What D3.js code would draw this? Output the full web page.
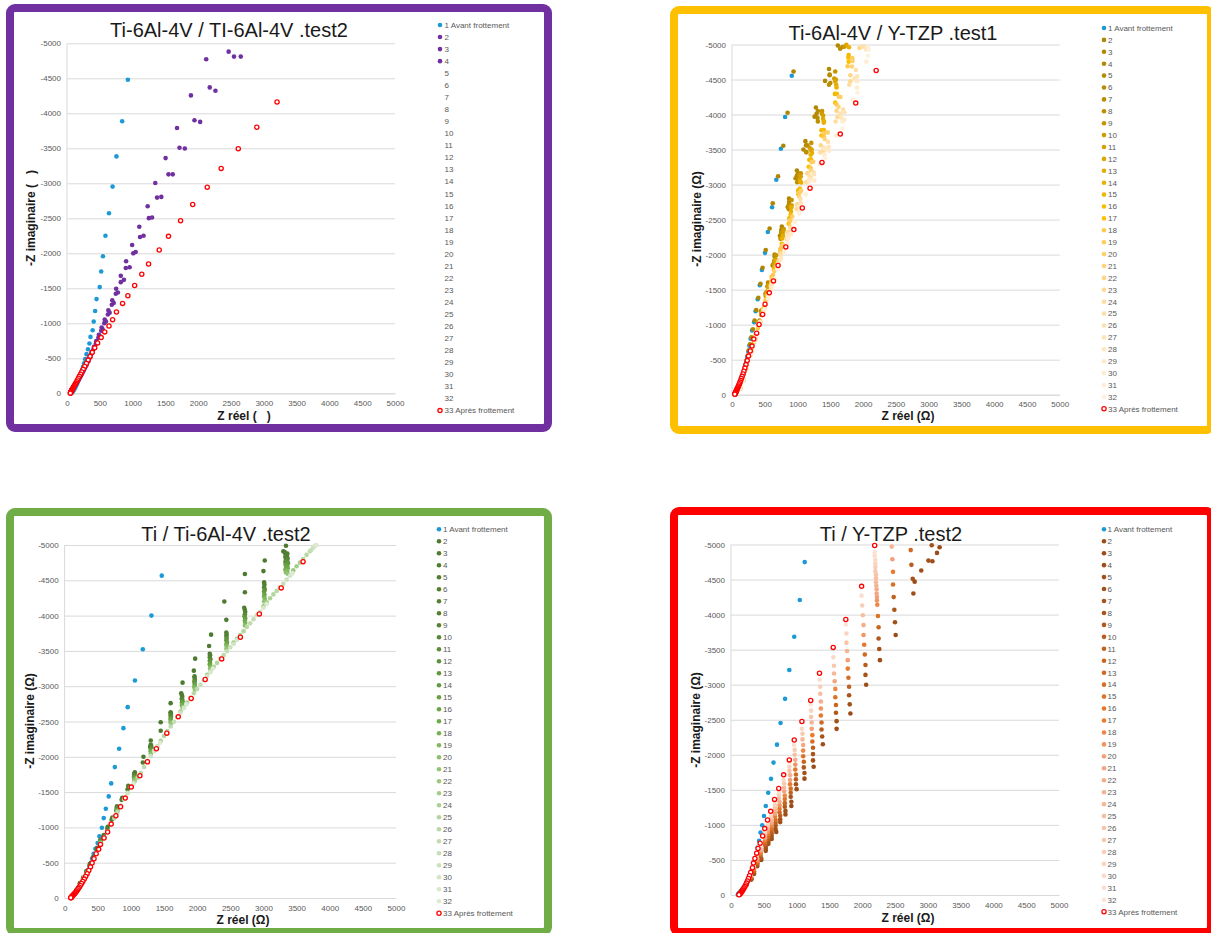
<!DOCTYPE html>
<html><head><meta charset="utf-8">
<script src="https://cdn.jsdelivr.net/npm/d3@7"></script>
<style>body{margin:0;background:#fff}svg{display:block}</style>
</head><body>
<svg id="c" width="1211" height="933"></svg>
<script>
// ---------- shared labels ----------
const xTickValues = [0,500,1000,1500,2000,2500,3000,3500,4000,4500,5000];
const yTickValues = [0,500,1000,1500,2000,2500,3000,3500,4000,4500,5000];
const yTickLabels = ["0","-500","-1000","-1500","-2000","-2500","-3000","-3500","-4000","-4500","-5000"];
const legendNames = ["1 Avant frottement","2","3","4","5","6","7","8","9","10","11","12","13","14","15","16","17","18","19","20","21","22","23","24","25","26","27","28","29","30","31","32","33 Après frottement"];
const chartTitles = ["Ti-6Al-4V / TI-6Al-4V .test2","Ti-6Al-4V / Y-TZP .test1","Ti / Ti-6Al-4V .test2","Ti / Y-TZP .test2"];
const xTitles = ["Z réel (\u00a0\u00a0\u00a0)","Z réel (Ω)","Z réel (Ω)","Z réel (Ω)"];
const yTitles = ["-Z imaginaire (\u00a0\u00a0\u00a0)","-Z imaginaire (Ω)","-Z imaginaire (Ω)","-Z imaginaire (Ω)"];

// ---------- panel 1 : [Z réel, -Z imaginaire] ----------
const p1Avant = [[928,4479],[841,3886],[754,3384],[695,2953],[640,2573],[586,2251],[548,1957],[521,1739],[499,1517],[450,1346],[429,1175],[407,1024],[391,900],[358,806],[342,711],[320,630],[298,559],[277,488],[260,430],[245,380],[230,335],[216,295],[203,258],[191,226],[180,197],[169,171],[159,149],[149,129],[140,111],[131,95],[123,81],[115,68],[108,57],[101,47],[95,38],[89,30],[84,23],[79,17],[74,12],[70,8],[66,4],[62,1]];
const p1Mid = [
[[2122,4773],[1889,4256],[1677,3791],[1503,3360],[1346,3005],[1230,2673],[1102,2379],[993,2118],[901,1886],[820,1678],[749,1493],[690,1330],[630,1185],[575,1055],[528,940],[485,837],[446,745],[410,663],[376,590],[346,525],[318,467],[292,416],[268,370],[246,330],[226,293],[207,261],[190,232],[174,207],[160,184],[147,164],[135,146],[124,130],[114,116],[105,103],[97,92],[90,82],[83,73],[77,65],[72,58],[67,51],[63,44],[59,35],[56,25],[53,15],[51,7]],
[[2464,4881],[2176,4370],[1943,3900],[1715,3507],[1547,3128],[1373,2796],[1248,2502],[1113,2232],[1010,2000],[896,1791],[820,1588],[744,1422],[683,1265],[623,1126],[569,1002],[521,892],[478,794],[439,707],[403,629],[370,560],[340,498],[313,443],[288,395],[265,351],[244,313],[225,278],[207,248],[191,220],[176,196],[162,175],[150,155],[138,138],[128,123],[118,110],[110,98],[102,87],[95,77],[88,69],[82,61],[77,54],[72,47],[68,40],[64,32],[60,23],[57,14],[54,6]],
[[2649,4810],[2546,4810],[2263,4322],[2030,3877],[1796,3498],[1612,3128],[1438,2806],[1297,2512],[1167,2251],[1047,2019],[955,1801],[868,1621],[776,1441],[712,1290],[650,1150],[594,1025],[544,914],[499,815],[458,727],[420,648],[386,578],[355,515],[326,459],[300,409],[276,365],[254,325],[234,290],[216,258],[199,230],[183,205],[169,183],[156,163],[144,145],[133,129],[123,115],[114,102],[106,91],[98,81],[91,72],[85,64],[80,56],[75,48],[70,40],[66,31],[62,22],[59,13],[56,5]],
[],[],[],[],[],[],[],[],[],[],[],[],[],[],[],[],[],[],[],[],[],[],[],[],[],[],[],[]
];
const p1Apres = [[3202,4161],[2893,3801],[2611,3493],[2350,3213],[2138,2943],[1916,2697],[1731,2464],[1547,2242],[1406,2047],[1243,1848],[1140,1701],[1031,1540],[928,1393],[847,1284],[754,1161],[695,1052],[640,962],[575,877],[521,796],[467,720],[423,649],[385,585],[352,527],[322,474],[295,426],[270,382],[247,342],[226,305],[207,272],[190,242],[174,214],[160,189],[147,166],[135,146],[124,128],[114,111],[105,96],[97,82],[90,70],[84,59],[78,49],[73,40],[69,32],[65,25],[61,19],[58,14],[55,9],[53,5],[51,2]];

// ---------- panel 2 ----------
const p2Avant = [[912,4553],[810,3964],[746,3512],[676,3070],[612,2676],[547,2324],[504,2025],[456,1782],[424,1564],[392,1364],[360,1193],[338,1036],[306,917],[284,798],[265,700],[248,615],[232,540],[217,475],[203,418],[190,367],[178,322],[166,283],[155,248],[145,218],[135,191],[126,167],[118,146],[110,128],[103,112],[96,97],[90,84],[84,73],[79,62],[74,53],[70,45],[66,37],[62,30],[59,24],[56,18],[54,13],[52,8],[50,4]];
const p2Mid = [
[[939,4615],[848,4026],[783,3555],[703,3118],[622,2733],[574,2372],[515,2067],[467,1811],[435,1583],[402,1383],[370,1210],[345,1060],[318,935],[295,820],[275,720],[257,633],[240,555],[224,487],[209,428],[195,375],[182,330],[170,290],[158,254],[147,223],[137,195],[128,171],[119,150],[111,131],[104,114],[97,99],[91,86],[85,75],[80,64],[75,55],[70,47],[66,39],[62,32],[59,26],[56,20],[53,14],[51,9],[49,5]],
[[1480,4650],[1280,4100],[1120,3620],[990,3200],[870,2800],[760,2400],[650,2000],[550,1600],[450,1200],[340,800],[220,400],[120,90]],
[[1615,4985],[1420,4480],[1260,3970],[1090,3500],[970,3090],[850,2680],[730,2270],[620,1850],[510,1440],[410,1030],[300,620],[170,210]],
[[1490,4570],[1290,4010],[1130,3560],[990,3130],[870,2750],[750,2350],[650,1970],[550,1560],[440,1190],[335,775],[217,402],[125,95]],
[[1650,4940],[1490,4560],[1310,4050],[1150,3560],[1010,3160],[870,2720],[760,2320],[640,1880],[530,1470],[420,1060],[300,620],[175,205]],
[[1500,4450],[1305,3950],[1130,3465],[1000,3080],[865,2680],[750,2315],[645,1910],[540,1545],[445,1140],[330,780],[215,375],[120,85]],
[[1685,4965],[1480,4425],[1310,3900],[1135,3460],[995,3035],[865,2650],[740,2225],[630,1835],[515,1410],[405,1005],[295,620],[170,200]],
[[1575,4615],[1375,4050],[1210,3595],[1050,3160],[910,2780],[790,2365],[675,1990],[565,1575],[455,1200],[335,780],[220,405],[125,90]],
[[1720,4970],[1560,4515],[1370,4015],[1185,3525],[1030,3130],[895,2695],[770,2300],[645,1860],[530,1465],[415,1030],[300,625],[175,210]],
[[1585,4500],[1390,3985],[1215,3500],[1050,3115],[910,2705],[785,2340],[670,1930],[555,1560],[450,1155],[340,785],[215,380],[120,95]],
[[1745,4995],[1575,4470],[1390,3935],[1200,3495],[1035,3065],[900,2675],[770,2245],[645,1855],[530,1425],[410,1035],[295,605],[170,205]],
[[1590,4425],[1400,3885],[1220,3450],[1055,3030],[905,2670],[780,2270],[665,1910],[555,1510],[450,1150],[335,750],[215,390],[125,90]],
[[1785,4960],[1595,4385],[1405,3900],[1200,3425],[1040,3040],[900,2615],[765,2230],[645,1810],[525,1425],[415,1000],[290,605],[175,200]],
[[1780,4850],[1570,4295],[1365,3775],[1180,3355],[1010,2915],[875,2520],[740,2080],[605,1680],[490,1245],[360,845],[225,410],[120,90]],
[[1775,4815],[1600,4295],[1400,3780],[1205,3360],[1035,2945],[895,2570],[760,2155],[640,1785],[525,1370],[405,995],[285,580],[170,210]],
[[1780,4755],[1575,4170],[1365,3700],[1170,3255],[1010,2865],[865,2440],[735,2050],[600,1620],[480,1235],[355,805],[225,420],[125,95]],
[[1765,4690],[1595,4145],[1400,3685],[1200,3235],[1015,2875],[880,2475],[755,2110],[625,1710],[510,1345],[395,945],[280,575],[175,205]],
[[1835,4805],[1630,4255],[1410,3735],[1215,3320],[1035,2890],[890,2495],[745,2060],[610,1665],[495,1230],[360,840],[225,405],[120,85]],
[[1840,4765],[1655,4250],[1460,3745],[1240,3325],[1055,2915],[920,2545],[780,2135],[645,1765],[530,1355],[400,985],[285,575],[170,200]],
[[1830,4685],[1625,4110],[1415,3650],[1205,3205],[1025,2825],[885,2400],[735,2020],[605,1600],[480,1215],[350,795],[220,410],[125,90]],
[[1945,4950],[1805,4560],[1595,4055],[1355,3560],[1150,3160],[995,2720],[845,2320],[700,1880],[565,1480],[435,1040],[300,630],[175,210]],
[[1805,4475],[1610,3965],[1400,3485],[1195,3100],[1005,2690],[860,2325],[715,1920],[590,1555],[465,1150],[340,780],[215,375],[120,95]],
[[1975,4965],[1790,4425],[1580,3900],[1345,3460],[1135,3035],[985,2650],[830,2225],[680,1835],[545,1410],[425,1025],[295,600],[170,205]],
[[1890,4635],[1695,4070],[1465,3610],[1245,3175],[1045,2795],[895,2380],[745,2000],[605,1580],[480,1205],[360,785],[220,410],[125,90]],
[[2010,4975],[1870,4515],[1650,4015],[1395,3525],[1180,3130],[1015,2695],[860,2300],[705,1860],[570,1465],[435,1030],[300,625],[175,200]],
[[1910,4545],[1715,4030],[1475,3540],[1250,3145],[1050,2735],[905,2360],[745,1950],[610,1580],[480,1165],[355,795],[215,380],[120,85]],
[[2045,4930],[1895,4490],[1670,3955],[1415,3510],[1180,3080],[1025,2690],[860,2255],[710,1865],[565,1430],[430,1040],[295,610],[170,210]],
[[1910,4475],[1715,3925],[1480,3485],[1255,3060],[1055,2700],[900,2295],[745,1930],[600,1525],[475,1160],[350,760],[215,395],[125,95]],
[[2065,4960],[1905,4385],[1685,3900],[1410,3425],[1180,3040],[1030,2615],[855,2230],[695,1810],[565,1425],[425,1000],[290,605],[175,205]],
[[2050,4755],[1845,4215],[1590,3700],[1345,3290],[1125,2860],[960,2470],[795,2040],[645,1650],[500,1220],[365,830],[235,400],[120,90]],
[[2090,4930],[2075,4840],[1915,4315],[1685,3800],[1420,3375],[1180,2960],[1020,2585],[855,2170],[695,1790],[555,1375],[425,1000],[300,585],[170,200]]
];
const p2Apres = [[2200,4629],[1888,4163],[1652,3721],[1373,3317],[1191,2947],[1073,2666],[944,2357],[821,2110],[703,1844],[633,1625],[569,1454],[504,1293],[467,1145],[413,1003],[376,879],[333,794],[306,694],[279,623],[252,551],[232,487],[214,430],[197,380],[182,336],[168,297],[155,262],[143,231],[132,204],[122,180],[113,158],[105,139],[97,122],[90,107],[84,93],[78,81],[73,70],[68,60],[64,51],[60,43],[56,35],[53,28],[50,22],[47,16],[45,11],[43,7]];

// ---------- panel 3 ----------
const p3Avant = [[1466,4566],[1310,4000],[1180,3524],[1061,3080],[952,2703],[887,2406],[823,2113],[758,1854],[703,1623],[666,1439],[622,1264],[590,1132],[563,995],[525,873],[498,778],[465,698],[438,627],[415,560],[395,500],[375,445],[355,395],[335,350],[315,308],[295,270],[276,236],[258,205],[241,177],[225,152],[210,130],[196,111],[183,94],[171,79],[160,66],[150,55],[141,45],[133,37],[126,30],[119,24],[113,18],[108,14],[104,10],[100,6],[97,3]];
const p3Mid = [
[[3340,4990],[3020,4780],[2720,4590],[2410,4200],[2210,3730],[1970,3390],[1780,3050],[1600,2760],[1450,2490],[1300,2230],[1190,2000],[1060,1780],[960,1590],[870,1420],[790,1280],[720,1140],[650,1010],[590,890],[540,800],[490,710],[430,580],[380,480],[330,380],[280,290],[230,210],[180,110],[130,50],[100,20]],
[[3300,4910],[3000,4630],[2720,4330],[2440,3940],[2180,3570],[1950,3220],[1760,2900],[1600,2630],[1450,2370],[1290,2140],[1180,1920],[1050,1720],[950,1540],[860,1390],[780,1240],[710,1110],[645,980],[585,870],[535,780],[485,690],[430,560],[380,465],[330,370],[280,280],[230,200],[180,105],[130,45],[100,18]],
[[3320,4900],[2710,4110],[2190,3460],[1770,2870],[1300,2170],[790,1300],[340,380],[200,140]],
[[3360,4880],[3010,4470],[2440,3760],[1960,3140],[1600,2620],[1050,1760],[540,820],[180,110]],
[[3335,4870],[2720,4080],[2195,3440],[1775,2850],[1305,2160],[795,1290],[345,370],[205,135]],
[[3355,4850],[3015,4440],[2445,3730],[1960,3120],[1605,2610],[1050,1750],[545,820],[180,110]],
[[3330,4830],[2725,4050],[2190,3410],[1770,2830],[1300,2140],[790,1280],[340,370],[200,130]],
[[3365,4810],[3010,4400],[2440,3710],[1965,3090],[1600,2590],[1055,1740],[540,810],[185,100]],
[[3340,4790],[2720,4020],[2200,3380],[1770,2810],[1310,2130],[790,1270],[345,370],[205,130]],
[[3360,4770],[3020,4370],[2445,3680],[1960,3070],[1605,2570],[1050,1730],[540,800],[180,100]],
[[3330,4760],[2715,3990],[2190,3360],[1780,2790],[1300,2110],[795,1260],[340,365],[200,125]],
[[3370,4740],[3010,4340],[2440,3650],[1960,3050],[1600,2550],[1050,1710],[545,800],[185,100]],
[[3335,4720],[2725,3960],[2195,3330],[1770,2770],[1305,2090],[790,1250],[345,360],[200,125]],
[[3360,4700],[3015,4300],[2450,3620],[1965,3020],[1600,2530],[1055,1700],[540,790],[180,100]],
[[3340,4690],[2720,3930],[2190,3310],[1775,2750],[1300,2080],[795,1240],[340,360],[205,120]],
[[3365,4670],[3010,4270],[2440,3590],[1960,3000],[1605,2510],[1050,1690],[540,790],[185,100]],
[[3330,4650],[2725,3900],[2200,3280],[1770,2730],[1305,2060],[790,1230],[345,360],[200,120]],
[[3360,4630],[3020,4240],[2445,3570],[1960,2980],[1600,2490],[1050,1670],[545,780],[180,95]],
[[3340,4610],[2720,3860],[2195,3250],[1780,2700],[1300,2040],[795,1220],[340,350],[205,120]],
[[3370,4590],[3010,4200],[2440,3530],[1965,2950],[1605,2470],[1055,1660],[540,770],[185,95]],
[[3450,4640],[3000,4130],[2550,3620],[2150,3160],[1750,2640],[1350,2090],[950,1490],[550,780],[300,300]],
[[3500,4700],[3050,4190],[2600,3670],[2200,3220],[1800,2700],[1400,2150],[1000,1580],[600,860],[260,230]],
[[3550,4750],[3100,4245],[2650,3725],[2250,3275],[1850,2770],[1450,2225],[1050,1640],[650,945],[320,330]],
[[3600,4800],[3150,4300],[2700,3780],[2300,3330],[1900,2835],[1500,2295],[1100,1705],[700,1040],[280,260]],
[[3650,4860],[3200,4350],[2750,3840],[2350,3390],[1950,2900],[1550,2365],[1150,1770],[750,1130],[340,350]],
[[3700,4910],[3250,4400],[2800,3890],[2400,3440],[2000,2960],[1600,2430],[1200,1855],[800,1220],[300,290]],
[[3720,4930],[3300,4450],[2850,3950],[2450,3495],[2050,3020],[1650,2495],[1250,1945],[850,1310],[360,380]],
[[3750,4960],[3350,4510],[2900,4005],[2500,3550],[2100,3085],[1700,2560],[1300,2010],[900,1400],[320,310]],
[[3770,4980],[3400,4565],[2950,4055],[2550,3600],[2150,3145],[1750,2625],[1350,2080],[950,1485],[380,410]],
[[3790,4995],[3420,4585],[3000,4110],[2600,3655],[2200,3200],[1800,2690],[1400,2145],[1000,1570],[340,340]],
[[3800,5000],[3440,4600],[3050,4165],[2640,3695],[2240,3250],[1840,2745],[1440,2200],[1040,1620],[400,440]]
];
const p3Apres = [[3598,4764],[3268,4392],[2938,4024],[2652,3693],[2370,3387],[2121,3094],[1910,2825],[1715,2566],[1542,2335],[1385,2113],[1250,1929],[1136,1731],[1006,1571],[915,1415],[844,1292],[774,1165],[703,1047],[649,934],[595,849],[541,759],[514,689],[476,627],[444,557],[415,495],[390,440],[365,390],[340,345],[318,305],[296,268],[275,235],[256,205],[238,178],[221,154],[206,133],[192,114],[179,97],[167,83],[157,70],[147,59],[139,49],[131,41],[124,34],[118,27],[112,21],[107,16],[103,12],[99,8],[96,5],[93,3]];

// ---------- panel 4 ----------
const p4Avant = [[1124,4749],[1049,4209],[964,3684],[889,3210],[824,2798],[755,2453],[701,2145],[648,1889],[610,1657],[567,1458],[530,1269],[503,1127],[476,994],[450,890],[428,772],[407,677],[388,600],[370,530],[352,468],[335,413],[318,364],[302,320],[286,281],[271,246],[256,215],[242,188],[229,164],[216,143],[204,124],[193,107],[182,92],[172,79],[163,67],[154,57],[146,48],[139,40],[132,33],[126,27],[121,21],[116,16],[112,11],[108,7],[105,3]];
const p4Mid = [
[[3180,4960],[2800,4470],[2510,3710],[1820,2590],[1260,1830],[920,1270],[690,900],[530,630],[350,300],[240,150]],
[[3140,4880],[3070,4760],[2270,3350],[1610,2370],[1120,1660],[830,1150],[620,800],[460,500],[310,220]],
[[2900,4630],[2780,4300],[2060,3000],[1400,2150],[1000,1510],[750,1040],[570,730],[400,410],[190,90]],
[[3010,4770],[2500,3890],[1810,2720],[1250,1920],[920,1330],[680,940],[530,660],[350,310],[235,150]],
[[3060,4990],[2260,3510],[1610,2480],[1120,1740],[830,1200],[620,840],[460,520],[310,230]],
[[2770,4510],[2050,3140],[1390,2260],[990,1580],[750,1080],[570,760],[400,430],[190,95]],
[[2490,4070],[1800,2850],[1250,2010],[910,1400],[680,990],[530,690],[350,330],[240,160]],
[[2250,3660],[1600,2600],[1110,1820],[820,1260],[620,880],[450,540],[310,240]],
[[2750,4710],[2050,3280],[1380,2360],[990,1650],[750,1130],[570,800],[400,450],[185,90]],
[[2480,4250],[1800,2970],[1250,2100],[910,1460],[680,1030],[520,720],[350,340],[235,160]],
[[2250,3820],[1600,2710],[1110,1900],[820,1310],[620,920],[450,570],[300,250]],
[[2740,4920],[2040,3430],[1380,2460],[990,1720],[740,1180],[570,830],[400,460],[190,100]],
[[2470,4430],[1790,3100],[1240,2190],[910,1520],[680,1070],[520,750],[350,360],[240,165]],
[[2240,3980],[1590,2820],[1100,1980],[820,1370],[620,950],[450,590],[300,260]],
[[2030,3570],[1370,2560],[980,1790],[740,1230],[570,870],[400,480],[185,95]],
[[2470,4610],[1780,3230],[1240,2280],[900,1580],[670,1120],[520,780],[350,370],[235,165]],
[[2230,4140],[1590,2940],[1100,2060],[820,1420],[610,990],[450,610],[300,270]],
[[2225,4200],[2020,3710],[1370,2660],[980,1860],[740,1280],[560,900],[400,500],[190,100]],
[[2460,4790],[2225,4250],[1780,3350],[1230,2370],[900,1640],[670,1160],[520,810],[350,390],[240,170]],
[[2220,4300],[1580,3050],[1100,2140],[810,1480],[610,1030],[450,640],[300,280]],
[[2220,4360],[2020,3850],[1370,2760],[980,1930],[740,1330],[560,940],[400,520],[185,100]],
[[2450,4970],[2215,4410],[1770,3480],[1230,2460],[900,1710],[670,1210],[520,840],[350,400],[235,170]],
[[2210,4460],[1570,3160],[1090,2220],[810,1530],[610,1070],[450,660],[300,290]],
[[2210,4520],[2010,3990],[1360,2870],[970,2000],[730,1380],[560,970],[390,540],[190,105]],
[[2210,4570],[1760,3600],[1220,2540],[890,1770],[670,1250],[520,870],[345,420],[240,175]],
[[2200,4620],[1570,3270],[1090,2300],[810,1590],[610,1110],[450,690],[300,300]],
[[2200,4680],[2000,4130],[1360,2970],[970,2070],[730,1430],[560,1000],[390,560],[185,105]],
[[2200,4730],[1760,3730],[1220,2630],[890,1830],[670,1290],[520,900],[344,430],[235,175]],
[[2200,4780],[1560,3390],[1080,2370],[800,1640],[610,1140],[440,710],[300,310]],
[[2190,4840],[1990,4270],[1350,3070],[960,2140],[730,1470],[560,1040],[390,580],[190,110]],
[[2190,4890],[1750,3860],[1215,2720],[889,1890],[664,1340],[514,930],[343,450],[240,180]]
];
const p4Apres = [[2190,4986],[1991,4403],[1750,3930],[1558,3532],[1349,3163],[1215,2775],[1081,2476],[964,2211],[889,1927],[803,1714],[728,1520],[664,1364],[605,1193],[557,1070],[514,947],[482,843],[444,739],[412,663],[391,597],[364,521],[343,455],[327,388],[300,322],[282,275],[266,235],[251,200],[237,170],[224,144],[212,122],[200,102],[189,85],[179,70],[170,57],[162,46],[154,36],[147,28],[141,21],[135,15],[130,10],[125,6],[121,3]];

// ---------- layout / style ----------
const FONT = "'Liberation Sans', Arial, Helvetica, sans-serif";
const blue = "#1C9AD6";
const mkScale = (dom, rng) => d3.scaleLinear().domain(dom).range(rng).interpolate(d3.interpolateRgb).clamp(true);
const panels = [
  {avant:p1Avant, mid:p1Mid, apres:p1Apres, border:"#7030A0", box:[10,8,538,420],
   x0:67, x1:395, yb:393.3, yt:43.3, title:[229,37], xt:[244,420], yt2:[31,218], leg:[440,444.5,25,12.05],
   color: () => "#7030A0"},
  {avant:p2Avant, mid:p2Mid, apres:p2Apres, border:"#FFC000", box:[674,10,537,420],
   x0:732, x1:1059.7, yb:394.7, yt:44.5, title:[893,40], xt:[908,420], yt2:[697,219], leg:[1104,1108,28,11.9],
   color: mkScale([2,8,12,17,18,24,32],["#B08500","#BC8E00","#DDA600","#FFC000","#FFC94F","#FFDCA0","#FFF1DC"])},
  {avant:p3Avant, mid:p3Mid, apres:p3Apres, border:"#70AD47", box:[10,512,538,420],
   x0:64.6, x1:396, yb:898, yt:545, title:[226,541], xt:[243,924], yt2:[30,721], leg:[439,443,529.3,12.0],
   color: mkScale([2,9,17,20,25,32],["#4C7A2E","#548235","#6EAA46","#8CC06C","#B3D59E","#DDEBD4"])},
  {avant:p4Avant, mid:p4Mid, apres:p4Apres, border:"#FF0000", box:[674,511,537,421],
   x0:731, x1:1059, yb:895, yt:544.5, title:[891,541], xt:[908,922], yt2:[696,720], leg:[1104,1107.5,529.3,11.95],
   color: mkScale([2,8,12,17,20,25,32],["#9A4B18","#A8541C","#C9651F","#EB7B2F","#F2A07A","#F6BFA2","#FBE3D6"])}
];

const svg = d3.select("#c");
svg.append("rect").attr("width",1211).attr("height",933).attr("fill","#fff");

panels.forEach((P, pi) => {
  const g = svg.append("g");
  g.append("rect").attr("x",P.box[0]).attr("y",P.box[1]).attr("width",P.box[2]).attr("height",P.box[3])
    .attr("rx",5).attr("fill","#fff").attr("stroke",P.border).attr("stroke-width",8);

  const x = d3.scaleLinear().domain([0,5000]).range([P.x0,P.x1]);
  const y = d3.scaleLinear().domain([0,5000]).range([P.yb,P.yt]);

  g.append("g").attr("transform",`translate(${P.x0},0)`)
    .call(d3.axisLeft(y).tickValues(yTickValues).tickSize(-(P.x1-P.x0)).tickPadding(6).tickFormat((d,i)=>yTickLabels[i]))
    .call(a=>a.select(".domain").remove())
    .call(a=>a.selectAll(".tick line").attr("stroke","#D9D9D9").attr("stroke-width",1))
    .call(a=>a.selectAll(".tick text").attr("fill","#595959").attr("font-size",8).attr("font-family",FONT));
  g.append("g").attr("transform",`translate(0,${P.yb})`)
    .call(d3.axisBottom(x).tickValues(xTickValues).tickSize(0).tickPadding(7).tickFormat(d=>String(d)))
    .call(a=>a.select(".domain").attr("stroke","#D9D9D9"))
    .call(a=>a.selectAll(".tick text").attr("fill","#595959").attr("font-size",8).attr("font-family",FONT));
  g.append("line").attr("x1",x(0)).attr("x2",x(0)).attr("y1",y(0)).attr("y2",y(5000)).attr("stroke","#D9D9D9");

  g.append("text").attr("x",P.title[0]).attr("y",P.title[1]).attr("text-anchor","middle")
    .attr("font-family",FONT).attr("font-size",20).attr("fill","#1a1a1a").text(chartTitles[pi]);
  g.append("text").attr("x",P.xt[0]).attr("y",P.xt[1]).attr("text-anchor","middle")
    .attr("font-family",FONT).attr("font-size",12).attr("font-weight","bold").attr("fill","#1a1a1a").text(xTitles[pi]);
  g.append("text").attr("transform",`translate(${P.yt2[0]},${P.yt2[1]}) rotate(-90)`).attr("dy","0.35em").attr("text-anchor","middle")
    .attr("font-family",FONT).attr("font-size",12).attr("font-weight","bold").attr("fill","#1a1a1a").text(yTitles[pi]);

  const pts = g.append("g");
  pts.selectAll("circle.s1").data(P.avant).join("circle").attr("class","s1")
    .attr("cx",d=>x(d[0])).attr("cy",d=>y(d[1])).attr("r",2.3).attr("fill",blue);
  P.mid.forEach((ser, k) => {
    const col = P.color(k+2);
    pts.append("g").selectAll("circle").data(ser).join("circle")
      .attr("cx",d=>x(d[0])).attr("cy",d=>y(d[1])).attr("r",2.3).attr("fill",col);
  });
  pts.selectAll("circle.s33").data(P.apres).join("circle").attr("class","s33")
    .attr("cx",d=>x(d[0])).attr("cy",d=>y(d[1])).attr("r",2.1)
    .attr("fill","#fff").attr("stroke","#FF0000").attr("stroke-width",1.3);

  const [mx, tx, ly0, step] = P.leg;
  const lg = g.append("g");
  legendNames.forEach((name, i) => {
    const yy = ly0 + i*step;
    if (i === 0) lg.append("circle").attr("cx",mx).attr("cy",yy).attr("r",2.3).attr("fill",blue);
    else if (i === 32) lg.append("circle").attr("cx",mx).attr("cy",yy).attr("r",2.1).attr("fill","#fff").attr("stroke","#FF0000").attr("stroke-width",1.3);
    else if (P.mid[i-1].length) lg.append("circle").attr("cx",mx).attr("cy",yy).attr("r",2.3).attr("fill",P.color(i+1));
    lg.append("text").attr("x",tx).attr("y",yy).attr("dy","0.35em").attr("font-family",FONT)
      .attr("font-size",8).attr("fill","#595959").text(name);
  });
});
</script>
</body></html>
